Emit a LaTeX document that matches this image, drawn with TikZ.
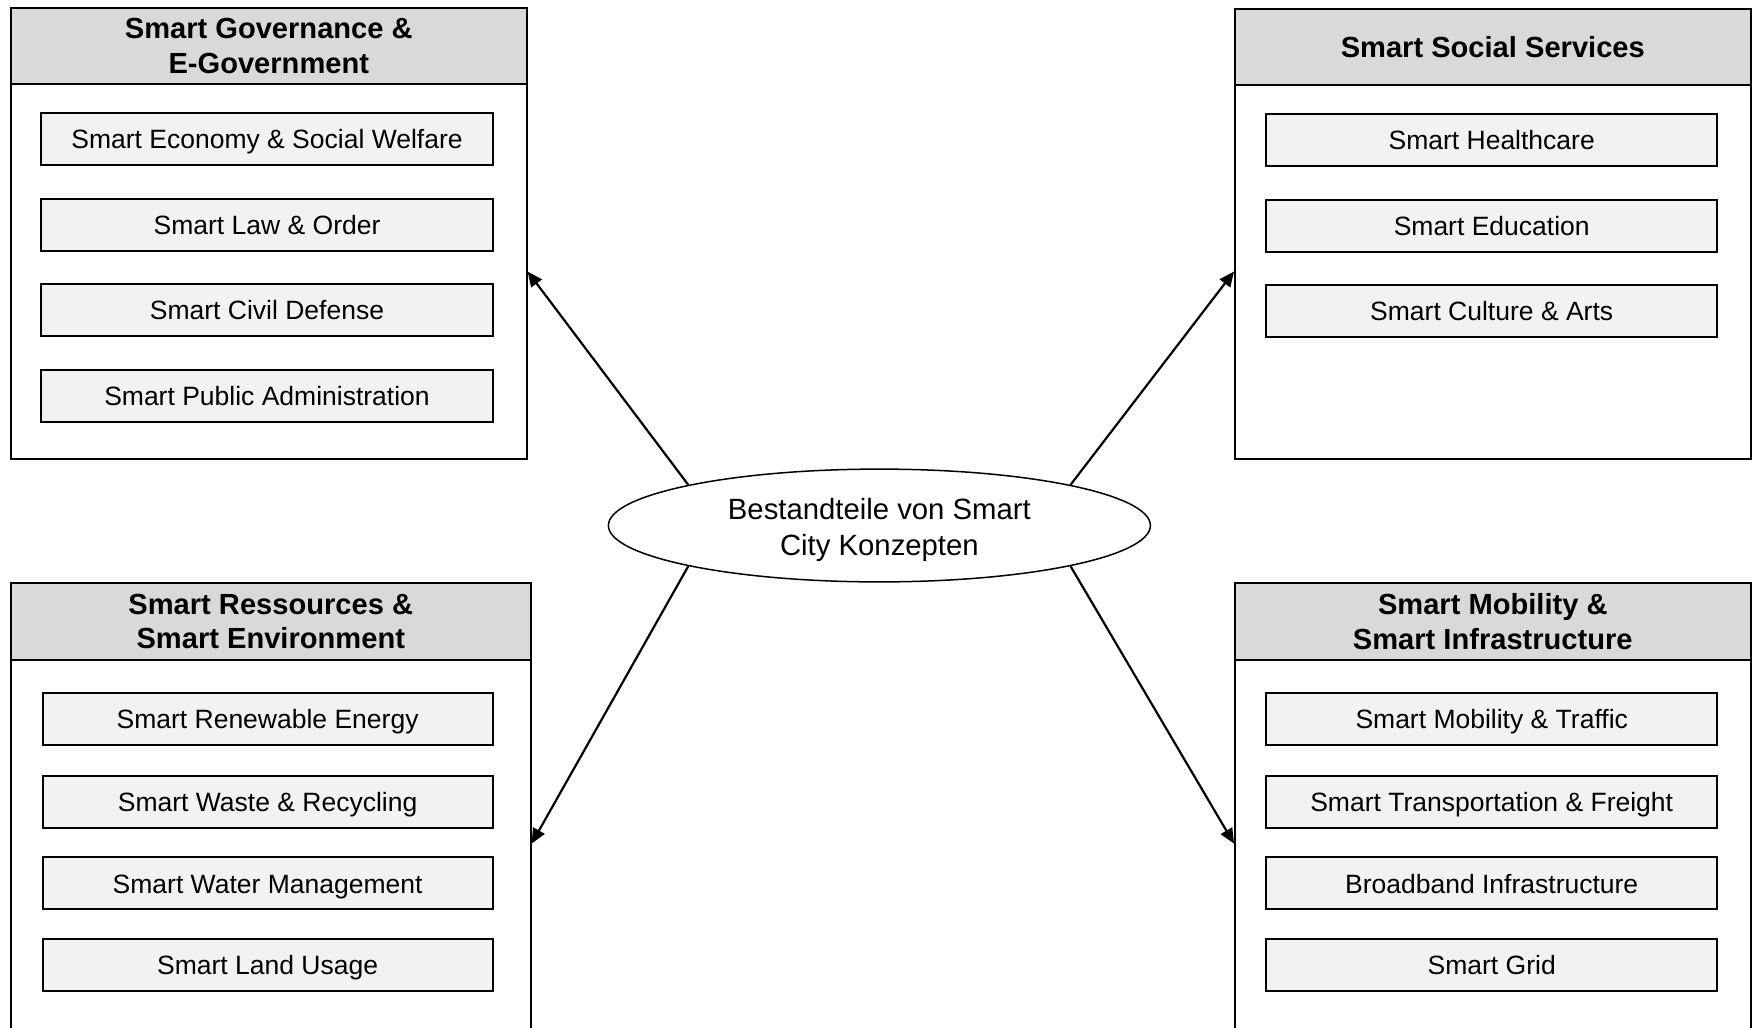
\documentclass[tikz,border=0pt]{standalone}
\usepackage{fontspec}
\setmainfont{Liberation Sans}
\usetikzlibrary{arrows.meta,shapes.geometric}
\definecolor{headgray}{HTML}{D9D9D9}
\definecolor{itemgray}{HTML}{F2F2F2}
\tikzset{
  panel/.style={draw=black, line width=0.8pt, fill=white, anchor=north west, inner sep=0pt},
  panelhead/.style={draw=black, line width=0.8pt, fill=headgray, anchor=north west, inner sep=0pt,
    align=center, font=\fontsize{14.55}{17.3}\selectfont\bfseries},
  item/.style={draw=black, line width=1pt, fill=itemgray, inner sep=0pt,
    text height=9.6pt, text depth=0pt,
    minimum width=225.7pt, minimum height=26pt, font=\fontsize{13.25}{16}\selectfont},
  hub/.style={ellipse, draw=black, line width=0.75pt, fill=white, inner sep=0pt,
    text height=29.6pt, text depth=0pt,
    minimum width=271pt, minimum height=56.4pt, align=center,
    font=\fontsize{14.65}{17.9}\selectfont},
  link/.style={line width=1.1pt, -{Triangle[length=7.5pt, width=6.5pt]}}
}
\begin{document}
\begin{tikzpicture}[x=0.5pt, y=-0.5pt]
\useasboundingbox (0,0) rectangle (1752,1028);
\clip (0,0) rectangle (1752,1028);

% Smart Governance panel (top left)
\node[panel, minimum width=258pt, minimum height=225.5pt] (tl) at (10,7) {};
\node[panelhead, minimum width=258pt, minimum height=38pt] (tlh) at (10,7) {Smart Governance \&\\E-Government};
\node[item] (tl1) at (267,139.2) {Smart Economy \& Social Welfare};
\node[item] (tl2) at (267,224.6) {Smart Law \& Order};
\node[item] (tl3) at (267,309.5) {Smart Civil Defense};
\node[item] (tl4) at (267,395.5) {Smart Public Administration};

% Smart Social Services panel (top right)
\node[panel, minimum width=258pt, minimum height=225pt] (tr) at (1234,8) {};
\node[panelhead, minimum width=258pt, minimum height=38pt] (trh) at (1234,8) {Smart Social Services};
\node[item] (tr1) at (1491.7,140.3) {Smart Healthcare};
\node[item] (tr2) at (1491.7,225.7) {Smart Education};
\node[item] (tr3) at (1491.7,310.7) {Smart Culture \& Arts};

% Smart Resources panel (bottom left)
\node[panel, minimum width=260pt, minimum height=240pt] (bl) at (10,582) {};
\node[panelhead, minimum width=260pt, minimum height=38.5pt] (blh) at (10,582) {Smart Ressources \&\\Smart Environment};
\node[item, minimum width=225pt] (bl1) at (267.6,718.5) {Smart Renewable Energy};
\node[item, minimum width=225pt] (bl2) at (267.6,802.1) {Smart Waste \& Recycling};
\node[item, minimum width=225pt] (bl3) at (267.6,883.4) {Smart Water Management};
\node[item, minimum width=225pt] (bl4) at (267.6,965.1) {Smart Land Usage};

% Smart Mobility panel (bottom right)
\node[panel, minimum width=258pt, minimum height=240pt] (br) at (1234,582) {};
\node[panelhead, minimum width=258pt, minimum height=38.5pt] (brh) at (1234,582) {Smart Mobility \&\\Smart Infrastructure};
\node[item] (br1) at (1491.7,719.2) {Smart Mobility \& Traffic};
\node[item] (br2) at (1491.7,802.1) {Smart Transportation \& Freight};
\node[item] (br3) at (1491.7,883.4) {Broadband Infrastructure};
\node[item] (br4) at (1491.7,965.1) {Smart Grid};

% central concept
\node[hub] (hub) at (879.4,525.5) {Bestandteile von Smart\\City Konzepten};

% arrow targets on the panel edges
\coordinate (tla) at (0,271.5);
\coordinate (tra) at (0,271.5);
\coordinate (bla) at (0,843.6);
\coordinate (bra) at (0,843.6);

\draw[link] (hub.168) -- (tl.east |- tla);
\draw[link] (hub.12) -- (tr.west |- tra);
\draw[link] (hub.192) -- (bl.east |- bla);
\draw[link] (hub.348) -- (br.west |- bra);
\end{tikzpicture}
\end{document}
